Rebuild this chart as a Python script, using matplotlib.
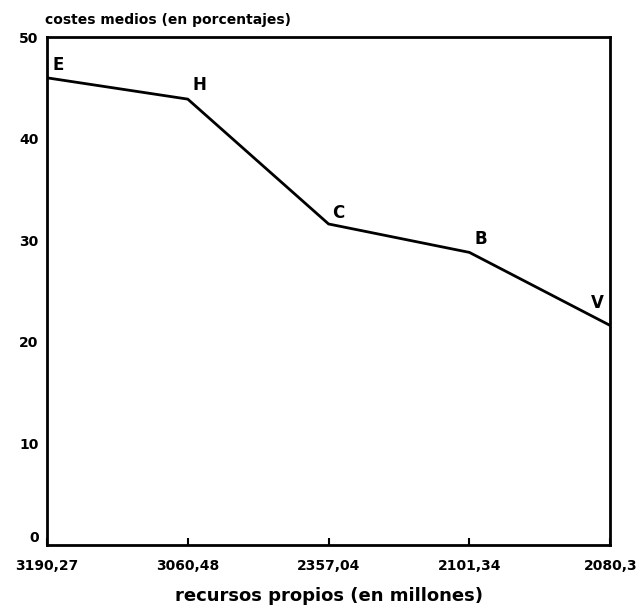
import matplotlib
matplotlib.use("Agg")
import matplotlib.pyplot as plt

tick_labels = ["3190,27", "3060,48", "2357,04", "2101,34", "2080,3"]
point_labels = ["E", "H", "C", "B", "V"]
costes = [46.0, 43.9, 31.6, 28.8, 21.6]

fig = plt.figure(figsize=(6.43, 6.10), dpi=100)
ax = fig.add_axes([0.073, 0.107, 0.876, 0.832])
x = list(range(len(costes)))
ax.plot(x, costes, color="black", lw=2.0)
ax.set_xlim(0, len(costes) - 1)
ax.set_ylim(0, 50)
ax.set_xticks(x)
ax.set_xticklabels(tick_labels, fontsize=10, fontweight="bold")
ax.set_yticks([0, 10, 20, 30, 40, 50])
ax.set_yticklabels(["0", "10", "20", "30", "40", "50"], fontsize=10, fontweight="bold")
ax.tick_params(axis="x", direction="in", length=5, width=1.5, pad=10)
ax.tick_params(axis="y", length=0, pad=6)
ax.get_yticklabels()[0].set_va("bottom")
for s in ax.spines.values():
    s.set_linewidth(2.0)

offsets = [(0.08, 0.4), (0.08, 0.5), (0.07, 0.2), (0.08, 0.4), (-0.09, 1.3)]
for xi, yi, lab, (dx, dy) in zip(x, costes, point_labels, offsets):
    ax.text(xi + dx, yi + dy, lab, fontsize=12, fontweight="bold", ha="center", va="bottom")

ax.set_xlabel("recursos propios (en millones)", fontsize=13, fontweight="bold", labelpad=10)
fig.text(0.07, 0.955, "costes medios (en porcentajes)", fontsize=10, fontweight="bold",
         ha="left", va="bottom")

fig.savefig("out.png", dpi=100, facecolor="white")
